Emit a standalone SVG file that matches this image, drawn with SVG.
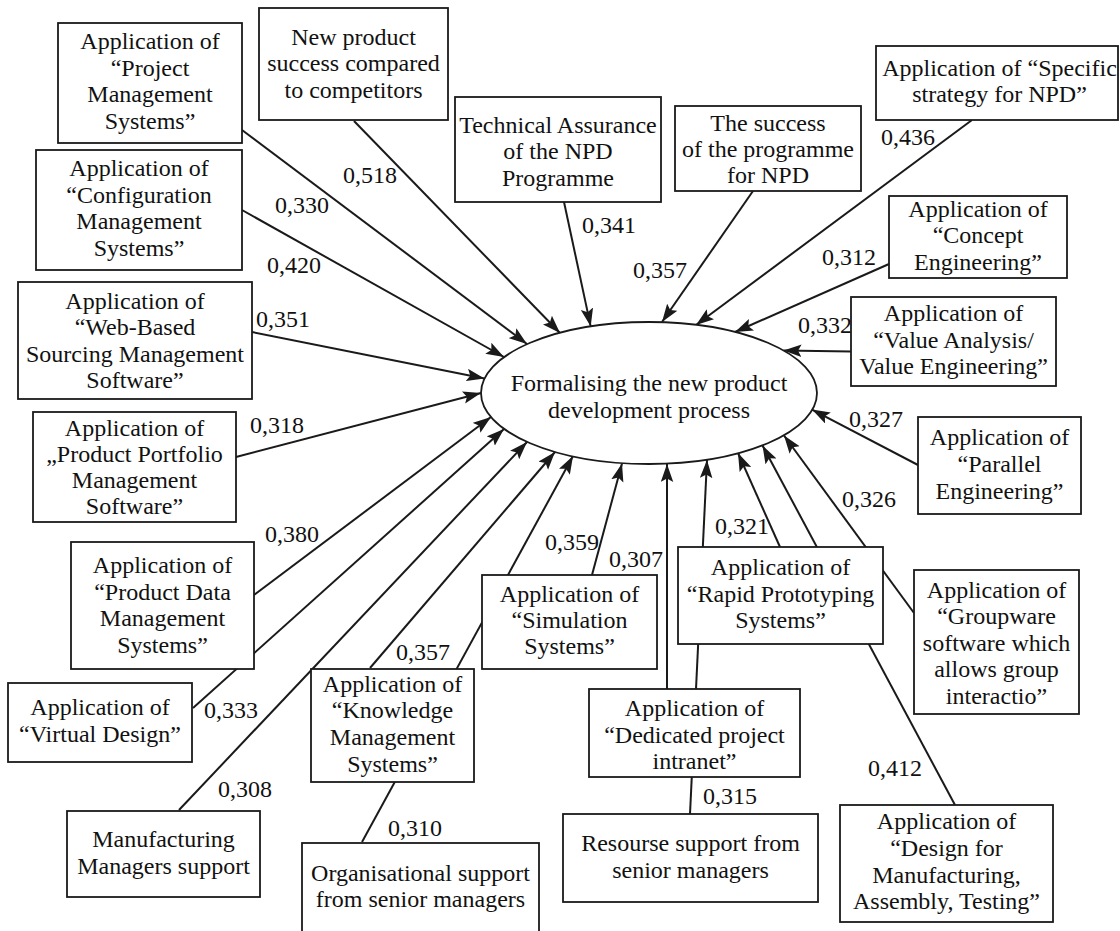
<svg xmlns="http://www.w3.org/2000/svg" width="1120" height="931" viewBox="0 0 1120 931">
<style>
.bg{fill:#ffffff}
.box{fill:#ffffff;stroke:#1a1a1a;stroke-width:1.8}
.ell{fill:#ffffff;stroke:#1a1a1a;stroke-width:1.8}
.t{font-family:"Liberation Serif","Times New Roman","DejaVu Serif",serif;font-size:24px;fill:#111;text-anchor:middle}
.lb{font-family:"Liberation Serif","Times New Roman","DejaVu Serif",serif;font-size:24px;fill:#111}
.c{fill:none;stroke:#1a1a1a;stroke-width:2;marker-end:url(#ah)}
</style>
<defs>
<marker id="ah" markerUnits="userSpaceOnUse" markerWidth="19" markerHeight="13" refX="18" refY="6.25" orient="auto">
<path d="M0,0 L18,6.25 L0,12.5 L3.5,6.25 z" fill="#1a1a1a"/>
</marker>
</defs>
<rect class="bg" x="0" y="0" width="1120" height="931"/>
<g id="connectors">
<path class="c" d="M242,130 L527,344"/>
<path class="c" d="M354,121 L560,333"/>
<path class="c" d="M242,210 L504,357"/>
<path class="c" d="M252,332 L484.5,378.5"/>
<path class="c" d="M236,457 L481,393"/>
<path class="c" d="M254,595 L491,417"/>
<path class="c" d="M193,708 L504,429"/>
<path class="c" d="M179,810 L527,442"/>
<path class="c" d="M370,668 L555,452"/>
<path class="c" d="M362,842 L573,456"/>
<path class="c" d="M592,575 L622,463.5"/>
<path class="c" d="M667,689 L667,464"/>
<path class="c" d="M690,814 L707,460"/>
<path class="c" d="M780,547 L738,453"/>
<path class="c" d="M955,805 L762.5,445.5"/>
<path class="c" d="M914,613 L784,435.5"/>
<path class="c" d="M918,465 L812,409.6"/>
<path class="c" d="M851,351.5 L783.5,350.5"/>
<path class="c" d="M889,264 L735,332"/>
<path class="c" d="M972,120 L696,325"/>
<path class="c" d="M753,191 L662,322"/>
<path class="c" d="M564,202 L590.7,326.4"/>
</g>
<g id="labels">
<text class="lb" x="343" y="183">0,518</text>
<text class="lb" x="275" y="213">0,330</text>
<text class="lb" x="267" y="273">0,420</text>
<text class="lb" x="256" y="327">0,351</text>
<text class="lb" x="250" y="433">0,318</text>
<text class="lb" x="265" y="542">0,380</text>
<text class="lb" x="204" y="718">0,333</text>
<text class="lb" x="218" y="797">0,308</text>
<text class="lb" x="396" y="660">0,357</text>
<text class="lb" x="388" y="836">0,310</text>
<text class="lb" x="545" y="550">0,359</text>
<text class="lb" x="609" y="567">0,307</text>
<text class="lb" x="715" y="534">0,321</text>
<text class="lb" x="703" y="804">0,315</text>
<text class="lb" x="868" y="776">0,412</text>
<text class="lb" x="842" y="507">0,326</text>
<text class="lb" x="849" y="427">0,327</text>
<text class="lb" x="798" y="333">0,332</text>
<text class="lb" x="822" y="265">0,312</text>
<text class="lb" x="881" y="145">0,436</text>
<text class="lb" x="633" y="278">0,357</text>
<text class="lb" x="582" y="233">0,341</text>
</g>
<g id="n-center">
<ellipse class="ell" cx="649" cy="393" rx="168" ry="71"/>
<text class="t" x="649" y="391">Formalising the new product</text>
<text class="t" x="649" y="418">development process</text>
</g>
<g id="n-pm">
<rect class="box" x="58" y="23" width="184" height="120"/>
<text class="t" x="150" y="49">Application of</text>
<text class="t" x="150" y="76">“Project</text>
<text class="t" x="150" y="102">Management</text>
<text class="t" x="150" y="129">Systems”</text>
</g>
<g id="n-np">
<rect class="box" x="259" y="8" width="189" height="112"/>
<text class="t" x="353.5" y="45">New product</text>
<text class="t" x="353.5" y="71">success compared</text>
<text class="t" x="353.5" y="98">to competitors</text>
</g>
<g id="n-config">
<rect class="box" x="36" y="150" width="206" height="120"/>
<text class="t" x="139" y="176">Application of</text>
<text class="t" x="139" y="203">“Configuration</text>
<text class="t" x="139" y="229">Management</text>
<text class="t" x="139" y="256">Systems”</text>
</g>
<g id="n-web">
<rect class="box" x="18" y="282" width="234" height="117"/>
<text class="t" x="135" y="309">Application of</text>
<text class="t" x="135" y="335">“Web-Based</text>
<text class="t" x="135" y="362">Sourcing Management</text>
<text class="t" x="135" y="388">Software”</text>
</g>
<g id="n-portfolio">
<rect class="box" x="33" y="412" width="203" height="110"/>
<text class="t" x="134.5" y="436">Application of</text>
<text class="t" x="134.5" y="462">„Product Portfolio</text>
<text class="t" x="134.5" y="488">Management</text>
<text class="t" x="134.5" y="514">Software”</text>
</g>
<g id="n-pdm">
<rect class="box" x="71" y="542" width="183" height="127"/>
<text class="t" x="162.5" y="573">Application of</text>
<text class="t" x="162.5" y="600">“Product Data</text>
<text class="t" x="162.5" y="626">Management</text>
<text class="t" x="162.5" y="653">Systems”</text>
</g>
<g id="n-vd">
<rect class="box" x="8" y="683" width="184" height="79"/>
<text class="t" x="100" y="715">Application of</text>
<text class="t" x="100" y="742">“Virtual Design”</text>
</g>
<g id="n-mm">
<rect class="box" x="67" y="811" width="193" height="86"/>
<text class="t" x="163.5" y="847">Manufacturing</text>
<text class="t" x="163.5" y="874">Managers support</text>
</g>
<g id="n-kms">
<rect class="box" x="311" y="669" width="163" height="113"/>
<text class="t" x="392.5" y="692">Application of</text>
<text class="t" x="392.5" y="718">“Knowledge</text>
<text class="t" x="392.5" y="745">Management</text>
<text class="t" x="392.5" y="772">Systems”</text>
</g>
<g id="n-org">
<rect class="box" x="302" y="843" width="237" height="95"/>
<text class="t" x="420.5" y="881">Organisational support</text>
<text class="t" x="420.5" y="907">from senior managers</text>
</g>
<g id="n-sim">
<rect class="box" x="482" y="575" width="175" height="94"/>
<text class="t" x="569.5" y="602">Application of</text>
<text class="t" x="569.5" y="628">“Simulation</text>
<text class="t" x="569.5" y="654">Systems”</text>
</g>
<g id="n-ded">
<rect class="box" x="589" y="689" width="211" height="88"/>
<text class="t" x="694.5" y="716">Application of</text>
<text class="t" x="694.5" y="743">“Dedicated project</text>
<text class="t" x="694.5" y="769">intranet”</text>
</g>
<g id="n-res">
<rect class="box" x="563" y="814" width="255" height="88"/>
<text class="t" x="690.5" y="851">Resourse support from</text>
<text class="t" x="690.5" y="878">senior managers</text>
</g>
<g id="n-rp">
<rect class="box" x="678" y="547" width="205" height="97"/>
<text class="t" x="780.5" y="575">Application of</text>
<text class="t" x="780.5" y="602">“Rapid Prototyping</text>
<text class="t" x="780.5" y="628">Systems”</text>
</g>
<g id="n-dfm">
<rect class="box" x="840" y="805" width="213" height="117"/>
<text class="t" x="946.5" y="829">Application of</text>
<text class="t" x="946.5" y="856">“Design for</text>
<text class="t" x="946.5" y="883">Manufacturing,</text>
<text class="t" x="946.5" y="909">Assembly, Testing”</text>
</g>
<g id="n-gw">
<rect class="box" x="914" y="570" width="165" height="144"/>
<text class="t" x="996.5" y="598">Application of</text>
<text class="t" x="996.5" y="624">“Groupware</text>
<text class="t" x="996.5" y="651">software which</text>
<text class="t" x="996.5" y="677">allows group</text>
<text class="t" x="996.5" y="704">interactio”</text>
</g>
<g id="n-par">
<rect class="box" x="918" y="417" width="163" height="97"/>
<text class="t" x="999.5" y="445">Application of</text>
<text class="t" x="999.5" y="472">“Parallel</text>
<text class="t" x="999.5" y="499">Engineering”</text>
</g>
<g id="n-va">
<rect class="box" x="851" y="297" width="205" height="89"/>
<text class="t" x="953.5" y="321">Application of</text>
<text class="t" x="953.5" y="348">“Value Analysis/</text>
<text class="t" x="953.5" y="374">Value Engineering”</text>
</g>
<g id="n-ce">
<rect class="box" x="889" y="196" width="178" height="82"/>
<text class="t" x="978" y="217">Application of</text>
<text class="t" x="978" y="243">“Concept</text>
<text class="t" x="978" y="270">Engineering”</text>
</g>
<g id="n-spec">
<rect class="box" x="876" y="46" width="242" height="74"/>
<text class="t" x="999.5" y="76">Application of “Specific</text>
<text class="t" x="999.5" y="102">strategy for NPD”</text>
</g>
<g id="n-succ">
<rect class="box" x="675" y="106" width="186" height="85"/>
<text class="t" x="768" y="131">The success</text>
<text class="t" x="768" y="157">of the programme</text>
<text class="t" x="768" y="183">for NPD</text>
</g>
<g id="n-tech">
<rect class="box" x="455" y="97" width="206" height="105"/>
<text class="t" x="558" y="133">Technical Assurance</text>
<text class="t" x="558" y="159">of the NPD</text>
<text class="t" x="558" y="186">Programme</text>
</g>
</svg>
